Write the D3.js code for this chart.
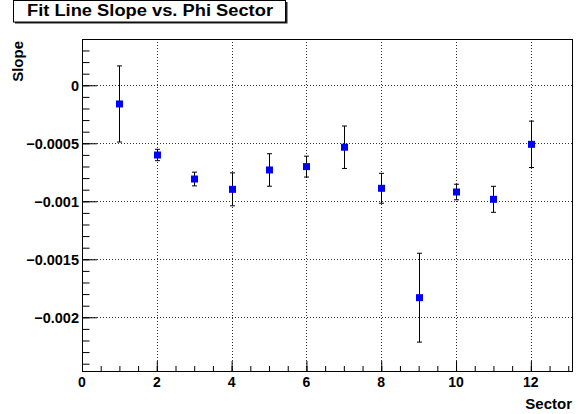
<!DOCTYPE html>
<html>
<head>
<meta charset="utf-8">
<script src="https://cdn.jsdelivr.net/npm/d3@7"></script>
<style>
  html, body { margin: 0; padding: 0; background: #fff; }
  svg { display: block; }
  text { font-family: "Liberation Sans", Arial, Helvetica, sans-serif; font-weight: bold; fill: #000; }
</style>
</head>
<body>
<svg id="chart" width="578" height="414"></svg>
<script>
// Fit slope per phi sector, with uncertainties
const sectors = [1, 2, 3, 4, 5, 6, 7, 8, 9, 10, 11, 12];
const slopes = [-0.000161, -0.000601, -0.000808, -0.000897, -0.00073, -0.000701,
                -0.000534, -0.000888, -0.001831, -0.00092, -0.000983, -0.000509];
const slopeErrors = [0.000328, 0.000049, 0.000059, 0.000142, 0.00014, 0.00009,
                     0.000183, 0.000129, 0.000383, 0.000067, 0.000112, 0.0002];
const xTickValues = [0, 2, 4, 6, 8, 10, 12];
const yTickValues = [0, -0.0005, -0.001, -0.0015, -0.002];
const yTickLabels = ["0", "\u22120.0005", "\u22120.001", "\u22120.0015", "\u22120.002"];

const chartTitle = "Fit Line Slope vs. Phi Sector";
const xTitle = "Sector";
const yTitle = "Slope";

const svg = d3.select("#chart");
const frame = { left: 82, right: 572, top: 39, bottom: 371 };

const x = d3.scaleLinear().domain([0, 13.1]).range([frame.left, frame.right]);
const y = d3.scaleLinear().domain([-0.002463, 0.000399]).range([frame.bottom, frame.top]);

// Dotted grid
const grid = svg.append("g").attr("stroke", "#000").attr("stroke-width", 1)
  .attr("stroke-dasharray", "1,2").attr("shape-rendering", "crispEdges").attr("opacity", 0.8);
grid.selectAll("line.gx").data(xTickValues.filter(v => v > 0)).join("line")
  .attr("x1", d => Math.round(x(d)) + 0.5).attr("x2", d => Math.round(x(d)) + 0.5)
  .attr("y1", frame.top).attr("y2", frame.bottom);
grid.selectAll("line.gy").data(yTickValues).join("line")
  .attr("y1", d => Math.round(y(d)) + 0.5).attr("y2", d => Math.round(y(d)) + 0.5)
  .attr("x1", frame.left).attr("x2", frame.right);

// Axes with inward ticks
const xMinor = d3.range(0, 13.01, 0.5);
const yMinor = d3.range(-24, 4.01, 1).map(k => k * 0.0001);

const xAxis = svg.append("g").attr("transform", `translate(0,${frame.bottom})`);
xAxis.call(d3.axisBottom(x).tickValues(xMinor).tickSize(-5).tickFormat(""));
xAxis.append("g").call(d3.axisBottom(x).tickValues(xTickValues).tickSize(-10).tickFormat(""));
xAxis.selectAll(".domain").remove();
xAxis.selectAll("line").attr("stroke", "#000");

const yAxis = svg.append("g").attr("transform", `translate(${frame.left},0)`);
yAxis.call(d3.axisLeft(y).tickValues(yMinor.filter(v => v <= 0.000399 && v >= -0.002463)).tickSize(-7.5).tickFormat(""));
yAxis.append("g").call(d3.axisLeft(y).tickValues(yTickValues).tickSize(-15).tickFormat(""));
yAxis.selectAll(".domain").remove();
yAxis.selectAll("line").attr("stroke", "#000");

// Frame
svg.append("rect")
  .attr("x", frame.left + 0.5).attr("y", frame.top + 0.5)
  .attr("width", frame.right - frame.left).attr("height", frame.bottom - frame.top)
  .attr("fill", "none").attr("stroke", "#000").attr("stroke-width", 1);

// Tick labels
svg.append("g").selectAll("text").data(xTickValues).join("text")
  .attr("x", d => x(d)).attr("y", 387)
  .attr("text-anchor", "middle").attr("font-size", 14)
  .text(d => d);
svg.append("g").selectAll("text").data(yTickValues).join("text")
  .attr("x", 79).attr("y", d => y(d) + 5.5)
  .attr("text-anchor", "end").attr("font-size", 14.5)
  .text((d, i) => yTickLabels[i]);

// Axis titles
svg.append("text").attr("x", 572).attr("y", 409).attr("text-anchor", "end")
  .attr("font-size", 15).text(xTitle);
svg.append("text").attr("transform", "translate(23,41) rotate(-90)")
  .attr("text-anchor", "end").attr("font-size", 15).text(yTitle);

// Error bars
const pts = sectors.map((s, i) => ({ s, v: slopes[i], e: slopeErrors[i] }));
const eb = svg.append("g").attr("stroke", "#000").attr("stroke-width", 1);
eb.selectAll("line.bar").data(pts).join("line")
  .attr("x1", d => Math.round(x(d.s)) + 0.5).attr("x2", d => Math.round(x(d.s)) + 0.5)
  .attr("y1", d => y(d.v + d.e)).attr("y2", d => y(d.v - d.e));
eb.selectAll("line.capTop").data(pts).join("line")
  .attr("x1", d => Math.round(x(d.s)) - 2).attr("x2", d => Math.round(x(d.s)) + 3)
  .attr("y1", d => y(d.v + d.e)).attr("y2", d => y(d.v + d.e));
eb.selectAll("line.capBot").data(pts).join("line")
  .attr("x1", d => Math.round(x(d.s)) - 2).attr("x2", d => Math.round(x(d.s)) + 3)
  .attr("y1", d => y(d.v - d.e)).attr("y2", d => y(d.v - d.e));

// Markers
svg.append("g").selectAll("rect").data(pts).join("rect")
  .attr("x", d => Math.round(x(d.s)) + 0.5 - 3.5).attr("y", d => y(d.v) - 3.5)
  .attr("width", 7).attr("height", 7).attr("fill", "#0000ff");

// Title box
const tb = svg.append("g");
tb.append("rect").attr("x", 15).attr("y", 2).attr("width", 272.5).attr("height", 21.5).attr("fill", "#222");
tb.append("rect").attr("x", 13.5).attr("y", 0.5).attr("width", 272).attr("height", 21.5)
  .attr("fill", "#fff").attr("stroke", "#000").attr("stroke-width", 1);
tb.append("text").attr("x", 150).attr("y", 16).attr("text-anchor", "middle")
  .attr("font-size", 16).attr("textLength", 246).attr("lengthAdjust", "spacingAndGlyphs")
  .text(chartTitle);
</script>
</body>
</html>
